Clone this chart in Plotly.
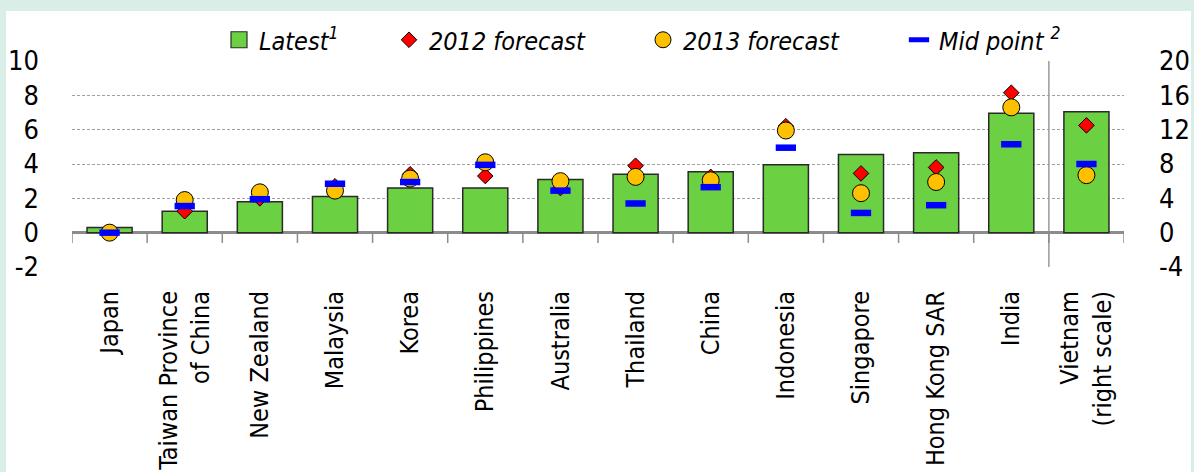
import plotly.graph_objects as go

# ---------------- data ----------------
countries = ["Japan", "Taiwan Province<br>of China", "New Zealand", "Malaysia", "Korea",
             "Philippines", "Australia", "Thailand", "China", "Indonesia", "Singapore",
             "Hong Kong SAR", "India", "Vietnam<br>(right scale)"]
latest = [0.3, 1.25, 1.8, 2.1, 2.6, 2.6, 3.1, 3.4, 3.55, 3.95, 4.55, 4.65, 6.95, 14.1]
f2012 = [0.0, 1.25, 2.0, 2.7, 3.4, 3.3, 2.6, 3.9, 3.25, 6.2, 3.45, 3.8, 8.15, 12.5]
f2013 = [0.0, 1.9, 2.35, 2.45, 3.15, 4.1, 3.0, 3.25, 3.05, 5.95, 2.3, 2.95, 7.3, 6.7]
midpoint = [0.0, 1.55, 1.95, 2.85, 2.95, 3.95, 2.45, 1.7, 2.65, 4.95, 1.15, 1.6, 5.15, 8.0]
right_scale = [False] * 13 + [True]

left_ticks = [-2, 0, 2, 4, 6, 8, 10]
right_ticks = [-4, 0, 4, 8, 12, 16, 20]

# ---------------- styling ----------------
FONT = "DejaVu Sans Condensed, Liberation Sans Narrow, Arial Narrow, sans-serif"
W, H = 1194, 472
ML, MR, MT, MB = 72, 70, 61, 205
PW, PH = W - ML - MR, H - MT - MB

GREEN, RED, GOLD, BLUE = "#6cd142", "#ff0000", "#ffc000", "#0000ff"


def px_x(p):
    return (p - ML) / PW


def px_y(p):
    return (H - MB - p) / PH


def split(vals, right):
    xs = [c for c, r in zip(countries, right_scale) if r == right]
    ys = [v for v, r in zip(vals, right_scale) if r == right]
    return xs, ys


fig = go.Figure()

series = [
    ("bar", latest, None),
    ("2012", f2012, dict(symbol="diamond", size=12, color=RED, line=dict(color="#000", width=1))),
    ("2013", f2013, dict(symbol="circle", size=17, color=GOLD, line=dict(color="#000", width=1))),
    ("mid", midpoint, dict(symbol="line-ew", size=14.5, color=BLUE, line=dict(color=BLUE, width=6.5))),
]
names = {"bar": "<i>Latest<sup>1</sup></i>", "2012": "<i>2012 forecast</i>",
         "2013": "<i>2013 forecast</i>", "mid": "<i>Mid point <sup>2</sup></i>"}

for key, vals, mk in series:
    for right in (False, True):
        xs, ys = split(vals, right)
        yax = "y2" if right else "y"
        if key == "bar":
            fig.add_trace(go.Bar(x=xs, y=ys, yaxis=yax, width=0.6,
                                 marker=dict(color=GREEN, line=dict(color="#2a2a2a", width=1.5)),
                                 showlegend=False, hoverinfo="skip"))
        else:
            fig.add_trace(go.Scatter(x=xs, y=ys, yaxis=yax, mode="markers", marker=mk,
                                     showlegend=False, hoverinfo="skip"))

# legend entries (one legend per item, positioned like the reference)
fig.add_trace(go.Scatter(x=[None], y=[None], mode="markers", name=names["bar"], legend="legend",
                         marker=dict(symbol="square", size=16, color=GREEN,
                                     line=dict(color="#2a2a2a", width=1.2))))
fig.add_trace(go.Scatter(x=[None], y=[None], mode="markers", name=names["2012"], legend="legend2",
                         marker=series[1][2]))
fig.add_trace(go.Scatter(x=[None], y=[None], mode="markers", name=names["2013"], legend="legend3",
                         marker=series[2][2]))
fig.add_trace(go.Scatter(x=[None], y=[None], mode="markers", name=names["mid"], legend="legend4",
                         marker=series[3][2]))

leg_common = dict(orientation="h", yanchor="middle", xanchor="left", bgcolor="rgba(0,0,0,0)",
                  font=dict(family=FONT, size=25, color="#000"), y=px_y(40))
leg_left_px = [219, 389, 643, 899]
for lg, lx in zip(["legend", "legend2", "legend3", "legend4"], leg_left_px):
    fig.update_layout({lg: dict(leg_common, x=px_x(lx))})

shapes = [
    dict(type="rect", xref="paper", yref="paper", layer="below",
         x0=px_x(6), x1=px_x(1191), y0=px_y(480), y1=px_y(11),
         fillcolor="white", line=dict(width=0)),
    dict(type="line", xref="x", yref="y", layer="below",
         x0=len(countries) - 1.5, x1=len(countries) - 1.5, y0=left_ticks[0], y1=left_ticks[-1],
         line=dict(color="#9a9a9a", width=1.5)),
]
for i in range(len(countries) + 1):
    shapes.append(dict(type="line", xref="x", yref="y", layer="below",
                       x0=i - 0.5, x1=i - 0.5, y0=0, y1=-0.6,
                       line=dict(color="#8c8c8c", width=1.5)))

fig.update_layout(
    width=W, height=H,
    margin=dict(l=ML, r=MR, t=MT, b=MB, pad=0, autoexpand=False),
    paper_bgcolor="#d8eee6",
    plot_bgcolor="rgba(0,0,0,0)",
    barmode="overlay",
    font=dict(family=FONT, color="#000"),
    shapes=shapes,
    xaxis=dict(type="category", categoryorder="array", categoryarray=countries,
               range=[-0.5, len(countries) - 0.5], tickangle=-90, showgrid=False,
               showline=False, ticks="", zeroline=False, ticklabelstandoff=18,
               automargin=False,
               tickfont=dict(family=FONT, size=25, color="#000")),
    yaxis=dict(range=[left_ticks[0], left_ticks[-1]], tickvals=left_ticks,
               ticktext=[str(t) for t in left_ticks],
               showgrid=True, gridcolor="#a0a0a0", gridwidth=1, griddash="3px,2px",
               zeroline=True, zerolinecolor="#8c8c8c", zerolinewidth=2.5,
               showline=False, ticks="", ticklabelstandoff=32, automargin=False,
               tickfont=dict(family=FONT, size=27, color="#000")),
    yaxis2=dict(range=[right_ticks[0], right_ticks[-1]], tickvals=right_ticks,
                ticktext=[str(t) for t in right_ticks], overlaying="y", side="right",
                showgrid=False, zeroline=False, showline=False, ticks="",
                ticklabelstandoff=34, automargin=False,
                tickfont=dict(family=FONT, size=27, color="#000")),
)

fig.write_html("out.html", config={"displayModeBar": False},
               post_script="document.body.style.margin='0';document.body.style.overflow='hidden';")
